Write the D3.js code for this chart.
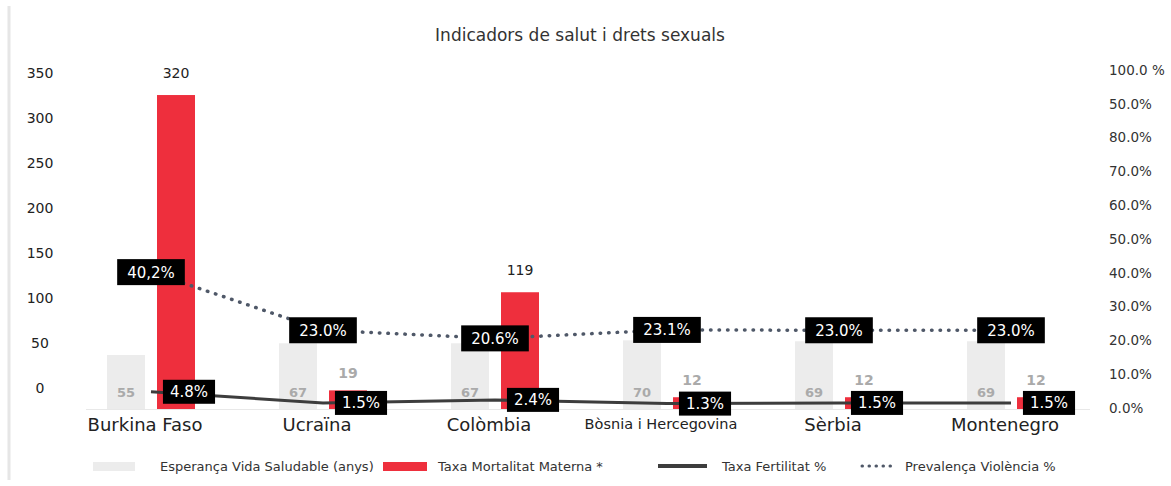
<!DOCTYPE html>
<html>
<head>
<meta charset="utf-8">
<script src="https://cdn.jsdelivr.net/npm/d3@7"></script>
<style>
  body { margin: 0; background: #fff; }
  svg { display: block; font-family: "DejaVu Sans", sans-serif; }
</style>
</head>
<body>
<div id="chart"></div>
<script>
// Data
const countries = ["Burkina Faso", "Ucraïna", "Colòmbia", "Bòsnia i Hercegovina", "Sèrbia", "Montenegro"];
const esperanca = [55, 67, 67, 70, 69, 69];          // Esperança Vida Saludable (anys)
const mortalitat = [320, 19, 119, 12, 12, 12];       // Taxa Mortalitat Materna *
const fertilitat = [4.8, 1.5, 2.4, 1.3, 1.5, 1.5];   // Taxa Fertilitat %
const violencia = [40.2, 23.0, 20.6, 23.1, 23.0, 23.0]; // Prevalença Violència %
const violenciaLabels = ["40,2%", "23.0%", "20.6%", "23.1%", "23.0%", "23.0%"];
const fertilitatLabels = ["4.8%", "1.5%", "2.4%", "1.3%", "1.5%", "1.5%"];
const leftTicks = [0, 50, 100, 150, 200, 250, 300, 350];
const rightTicks = [0, 10, 20, 30, 40, 50, 60, 70, 80, 90, 100];
const rightTickLabels = ["0.0%", "10.0%", "20.0%", "30.0%", "40.0%", "50.0%", "60.0%", "70.0%", "80.0%", "50.0%", "100.0 %"];
const legendNames = ["Esperança Vida Saludable (anys)", "Taxa Mortalitat Materna *", "Taxa Fertilitat %", "Prevalença Violència %"];

const width = 1171;
const height = 486;
const red = "#ee2f3d";
const lightGrey = "#ececec";

const svg = d3.select("#chart").append("svg").attr("width", width).attr("height", height);

// faint frame on the left
svg.append("line")
  .attr("x1", 9).attr("x2", 9).attr("y1", 6).attr("y2", 480)
  .attr("stroke", "#e6e6e6").attr("stroke-width", 3);

// scales
const x0 = d3.scaleBand().domain(countries).range([65, 1097]);
const half = x0.bandwidth() / 2;
const x1 = d3.scaleBand().domain(["esp", "mort"]).range([half - 44, half + 44]).paddingInner(0.24);
const yBar = d3.scaleLinear().domain([0, 350]).range([409, 65.6]);
const yLeft = d3.scaleLinear().domain([0, 350]).range([388, 73]);
const yRight = d3.scaleLinear().domain([0, 100]).range([408, 70]);
const cx = (c) => x0(c) + half;

// title
svg.append("text")
  .attr("x", 580).attr("y", 41)
  .attr("text-anchor", "middle")
  .attr("font-size", 17).attr("fill", "#333")
  .text("Indicadors de salut i drets sexuals");

// baseline
svg.append("line")
  .attr("x1", 86).attr("x2", 1090).attr("y1", 409.5).attr("y2", 409.5)
  .attr("stroke", "#e8e8e8").attr("stroke-width", 1);

// left axis
svg.append("g")
  .attr("transform", "translate(40,0)")
  .call(d3.axisLeft(yLeft).tickValues(leftTicks).tickSize(0).tickPadding(0))
  .call((g) => g.select(".domain").remove())
  .call((g) => g.selectAll("text")
    .attr("text-anchor", "middle")
    .attr("font-family", "DejaVu Sans")
    .attr("font-size", 14)
    .attr("fill", "#222"));

// right axis
svg.append("g")
  .attr("transform", "translate(1109,0)")
  .call(d3.axisRight(yRight).tickValues(rightTicks).tickSize(0).tickPadding(0)
    .tickFormat((d, i) => rightTickLabels[i]))
  .call((g) => g.select(".domain").remove())
  .call((g) => g.selectAll("text")
    .attr("font-family", "DejaVu Sans")
    .attr("font-size", 13.5)
    .attr("fill", "#333"));

const rows = countries.map((c, i) => ({
  c, esp: esperanca[i], mort: mortalitat[i], fert: fertilitat[i], viol: violencia[i],
  vLabel: violenciaLabels[i], fLabel: fertilitatLabels[i]
}));

// bars
const groups = svg.append("g").selectAll("g")
  .data(rows).join("g")
  .attr("transform", (d) => `translate(${x0(d.c)},0)`);

groups.append("rect")
  .attr("x", x1("esp")).attr("width", x1.bandwidth())
  .attr("y", (d) => yBar(d.esp)).attr("height", (d) => yBar(0) - yBar(d.esp))
  .attr("fill", lightGrey);

groups.append("rect")
  .attr("x", x1("mort")).attr("width", x1.bandwidth())
  .attr("y", (d) => yBar(d.mort)).attr("height", (d) => yBar(0) - yBar(d.mort))
  .attr("fill", red);

// values inside grey bars
groups.append("text")
  .attr("x", x1("esp") + x1.bandwidth() / 2)
  .attr("y", 397)
  .attr("text-anchor", "middle")
  .attr("font-size", 13).attr("font-weight", "bold")
  .attr("fill", "#aaa")
  .text((d) => d.esp);

// values above red bars
groups.append("text")
  .attr("x", x1("mort") + x1.bandwidth() / 2)
  .attr("y", (d) => yBar(d.mort) - (d.mort >= 100 ? 17 : 12))
  .attr("text-anchor", "middle")
  .attr("font-size", 14)
  .attr("font-weight", (d) => (d.mort >= 100 ? "normal" : "bold"))
  .attr("fill", (d) => (d.mort >= 100 ? "#222" : "#aaa"))
  .text((d) => d.mort);

// lines
const lineViol = d3.line().x((d) => cx(d.c)).y((d) => yRight(d.viol));
const lineFert = d3.line().x((d) => cx(d.c)).y((d) => yRight(d.fert));

svg.append("path")
  .datum(rows)
  .attr("d", lineFert)
  .attr("fill", "none")
  .attr("stroke", "#3d3d3d")
  .attr("stroke-width", 3);

svg.append("path")
  .datum(rows)
  .attr("d", lineViol)
  .attr("fill", "none")
  .attr("stroke", "#4f5868")
  .attr("stroke-width", 3.5)
  .attr("stroke-linecap", "round")
  .attr("stroke-dasharray", "0.5,8");

// black label boxes
function addLabels(key, textKey, dx, padX, h) {
  const g = svg.append("g").selectAll("g").data(rows).join("g")
    .attr("transform", (d) => `translate(${cx(d.c) + dx},${yRight(d[key])})`);
  const t = g.append("text")
    .attr("text-anchor", "middle")
    .attr("dy", "0.36em")
    .attr("font-size", 15)
    .attr("fill", "#fff")
    .text((d) => d[textKey]);
  t.each(function () {
    const w = this.getComputedTextLength() + padX * 2;
    d3.select(this.parentNode).insert("rect", "text")
      .attr("x", -w / 2).attr("y", -h / 2)
      .attr("width", w).attr("height", h)
      .attr("fill", "#000");
  });
}
addLabels("viol", "vLabel", 0, 10, 26);
addLabels("fert", "fLabel", 38, 7, 24);

// category labels
svg.append("g")
  .attr("transform", "translate(-6,426)")
  .call(d3.axisBottom(x0).tickSize(0).tickPadding(0))
  .call((g) => g.select(".domain").remove())
  .call((g) => g.selectAll("text")
    .attr("font-family", "DejaVu Sans")
    .attr("font-size", (d) => (d.length > 14 ? 14.5 : 18))
    .attr("dy", (d) => (d.length > 14 ? "0.2em" : "0.3em"))
    .attr("fill", "#222"));

// legend
const legendX = [93, 383, 658, 860];
const legendTextX = [160, 438, 722, 905];
const legendY = 466;
const lg = svg.append("g");
lg.append("rect").attr("x", legendX[0]).attr("y", legendY - 4).attr("width", 42).attr("height", 9).attr("fill", lightGrey);
lg.append("rect").attr("x", legendX[1]).attr("y", legendY - 4).attr("width", 44).attr("height", 9).attr("fill", red);
lg.append("line").attr("x1", legendX[2]).attr("x2", legendX[2] + 49).attr("y1", legendY).attr("y2", legendY)
  .attr("stroke", "#3d3d3d").attr("stroke-width", 4);
lg.append("line").attr("x1", legendX[3] + 2).attr("x2", legendX[3] + 37).attr("y1", legendY).attr("y2", legendY)
  .attr("stroke", "#4f5868").attr("stroke-width", 3).attr("stroke-linecap", "round")
  .attr("stroke-dasharray", "0.5,6.5");
lg.selectAll("text").data(legendNames).join("text")
  .attr("x", (d, i) => legendTextX[i])
  .attr("y", legendY)
  .attr("dy", "0.35em")
  .attr("font-size", 13)
  .attr("fill", "#333")
  .text((d) => d);
</script>
</body>
</html>
